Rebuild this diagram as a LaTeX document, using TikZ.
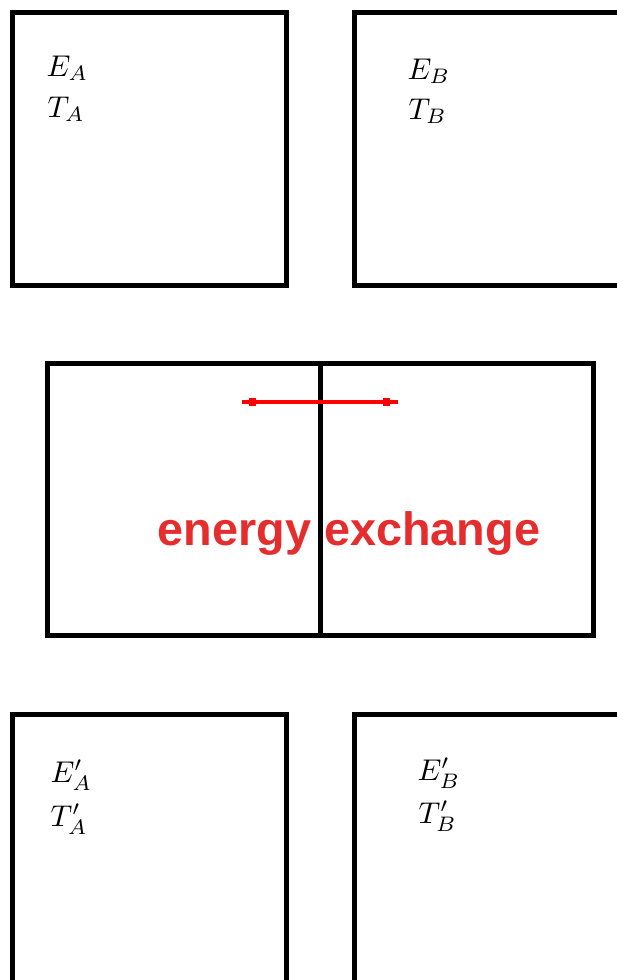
\documentclass[tikz,border=0pt]{standalone}
\usepackage{fontspec}
\newfontfamily\labelfont{Liberation Sans}
\definecolor{exred}{HTML}{E52D2D}
\begin{document}
\begin{tikzpicture}[x=1pt,y=-1pt,
  boxline/.style={line width=5pt,draw=black},
  lbl/.style={anchor=base west,inner sep=0pt,scale=3.0,font=\fontsize{10}{12}\selectfont},
  redtext/.style={text=exred,inner sep=0pt,font=\labelfont\bfseries\fontsize{46.8}{46.8}\selectfont}]
\useasboundingbox (0,0) rectangle (617,980);
% top boxes
\draw[boxline] (12,12) rectangle (286,285);
\draw[boxline] (354,12) rectangle (640,285);
% middle box
\draw[boxline] (47,363) rectangle (593,635);
\draw[boxline] (320,363) -- (320,635);
% bottom boxes
\draw[boxline] (12,714) rectangle (286,1000);
\draw[boxline] (354,714) rectangle (640,1000);
% labels
\node[lbl] (ea) at (46,76) {$E_A$};
\node[lbl] (ta) at (47,117) {$T_A$};
\node[lbl] (eb) at (407,79) {$E_B$};
\node[lbl] (tb) at (408,119) {$T_B$};
\node[lbl] (eap) at (50,782) {$E'_A$};
\node[lbl] (tap) at (50,826) {$T'_A$};
\node[lbl] (ebp) at (417,780) {$E'_B$};
\node[lbl] (tbp) at (418,823) {$T'_B$};
% red exchange
\coordinate (rl) at (242,402);
\coordinate (rr) at (398,402);
\draw[red,line width=4.5pt] (rl) -- (rr);
\fill[red] (249,398) rectangle (256,406);
\fill[red] (383,398) rectangle (390,406);
\node[redtext,anchor=base] (ex) at (349,545) {energy exchange};
\end{tikzpicture}
\end{document}
